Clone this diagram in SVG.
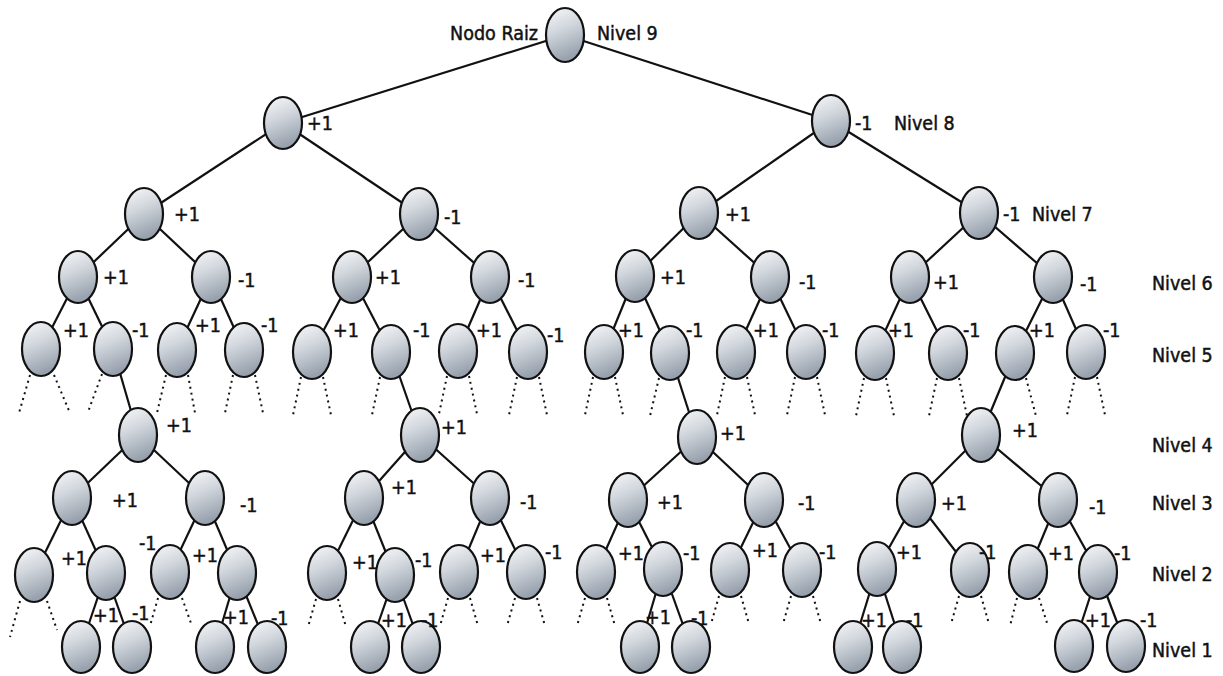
<svg xmlns="http://www.w3.org/2000/svg" width="1223" height="676" viewBox="0 0 1223 676">
<defs>
<linearGradient id="ball" x1="0" y1="0" x2="0.3" y2="1">
<stop offset="0" stop-color="#f7f8fa"/>
<stop offset="0.45" stop-color="#d3d8de"/>
<stop offset="1" stop-color="#98a2ae"/>
</linearGradient>
<style>
.n{fill:url(#ball);stroke:#111;stroke-width:2.2}
.e{stroke:#111;stroke-width:2.2;fill:none}
.d{stroke:#111;stroke-width:2;stroke-dasharray:2 4;fill:none}
text{font-family:"DejaVu Sans Condensed","DejaVu Sans",sans-serif;font-size:19.5px;fill:#111;stroke:#111;stroke-width:0.45}
</style>
</defs>
<rect width="1223" height="676" fill="#fff"/>

<!-- edges between nodes -->
<g id="connectors">
<g class="e">
<line x1="565" y1="35" x2="283" y2="123"/><line x1="565" y1="35" x2="831" y2="121"/>
<line x1="283" y1="123" x2="144" y2="214"/><line x1="283" y1="123" x2="419" y2="214"/>
<line x1="831" y1="121" x2="699" y2="213"/><line x1="831" y1="121" x2="979" y2="213"/>
<line x1="144" y1="214" x2="78" y2="277"/><line x1="144" y1="214" x2="211" y2="277"/>
<line x1="419" y1="214" x2="352" y2="277"/><line x1="419" y1="214" x2="490" y2="277"/>
<line x1="699" y1="213" x2="635" y2="276"/><line x1="699" y1="213" x2="770" y2="277"/>
<line x1="979" y1="213" x2="910" y2="277"/><line x1="979" y1="213" x2="1053" y2="277"/>
<line x1="78" y1="277" x2="41" y2="349"/><line x1="78" y1="277" x2="113" y2="349"/>
<line x1="211" y1="277" x2="177" y2="350"/><line x1="211" y1="277" x2="244" y2="350"/>
<line x1="352" y1="277" x2="312" y2="352"/><line x1="352" y1="277" x2="391" y2="352"/>
<line x1="490" y1="277" x2="458" y2="351"/><line x1="490" y1="277" x2="528" y2="352"/>
<line x1="635" y1="276" x2="604" y2="352"/><line x1="635" y1="276" x2="670" y2="353"/>
<line x1="770" y1="277" x2="736" y2="352"/><line x1="770" y1="277" x2="806" y2="352"/>
<line x1="910" y1="277" x2="875" y2="353"/><line x1="910" y1="277" x2="948" y2="353"/>
<line x1="1053" y1="277" x2="1015" y2="353"/><line x1="1053" y1="277" x2="1086" y2="352"/>
<line x1="113" y1="349" x2="138" y2="435"/>
<line x1="391" y1="352" x2="420" y2="435"/>
<line x1="670" y1="353" x2="697" y2="437"/>
<line x1="1015" y1="353" x2="981" y2="435"/>
<line x1="138" y1="435" x2="72" y2="498"/><line x1="138" y1="435" x2="205" y2="498"/>
<line x1="420" y1="435" x2="364" y2="498"/><line x1="420" y1="435" x2="490" y2="498"/>
<line x1="697" y1="437" x2="628" y2="500"/><line x1="697" y1="437" x2="764" y2="500"/>
<line x1="981" y1="435" x2="916" y2="500"/><line x1="981" y1="435" x2="1058" y2="500"/>
<line x1="72" y1="498" x2="34" y2="575"/><line x1="72" y1="498" x2="106" y2="573"/>
<line x1="205" y1="498" x2="170" y2="572"/><line x1="205" y1="498" x2="237" y2="573"/>
<line x1="364" y1="498" x2="327" y2="573"/><line x1="364" y1="498" x2="395" y2="575"/>
<line x1="490" y1="498" x2="459" y2="572"/><line x1="490" y1="498" x2="526" y2="572"/>
<line x1="628" y1="500" x2="596" y2="572"/><line x1="628" y1="500" x2="663" y2="569"/>
<line x1="764" y1="500" x2="730" y2="570"/><line x1="764" y1="500" x2="802" y2="570"/>
<line x1="916" y1="500" x2="877" y2="569"/><line x1="916" y1="500" x2="970" y2="570"/>
<line x1="1058" y1="500" x2="1028" y2="572"/><line x1="1058" y1="500" x2="1098" y2="572"/>
<line x1="106" y1="573" x2="81" y2="647"/><line x1="106" y1="573" x2="132" y2="647"/>
<line x1="237" y1="573" x2="215" y2="647"/><line x1="237" y1="573" x2="267" y2="647"/>
<line x1="395" y1="575" x2="370" y2="647"/><line x1="395" y1="575" x2="421" y2="647"/>
<line x1="663" y1="569" x2="640" y2="647"/><line x1="663" y1="569" x2="691" y2="647"/>
<line x1="877" y1="569" x2="853" y2="647"/><line x1="877" y1="569" x2="902" y2="647"/>
<line x1="1098" y1="572" x2="1074" y2="646"/><line x1="1098" y1="572" x2="1126" y2="646"/>
</g>
<!-- dotted stubs: subtrees that continue -->
<g class="d">
<line x1="30" y1="375" x2="19" y2="413"/><line x1="54" y1="375" x2="70" y2="413"/>
<line x1="102" y1="374" x2="88" y2="412"/>
<line x1="166" y1="375" x2="157" y2="413"/><line x1="188" y1="375" x2="195" y2="413"/>
<line x1="233" y1="375" x2="225" y2="413"/><line x1="255" y1="375" x2="263" y2="413"/>
<line x1="301" y1="377" x2="293" y2="415"/><line x1="323" y1="377" x2="331" y2="415"/>
<line x1="380" y1="377" x2="372" y2="415"/>
<line x1="447" y1="376" x2="439" y2="414"/><line x1="469" y1="376" x2="477" y2="414"/>
<line x1="517" y1="377" x2="509" y2="415"/><line x1="539" y1="377" x2="547" y2="415"/>
<line x1="593" y1="377" x2="585" y2="415"/><line x1="615" y1="377" x2="623" y2="415"/>
<line x1="659" y1="378" x2="650" y2="416"/>
<line x1="725" y1="377" x2="717" y2="415"/><line x1="747" y1="377" x2="755" y2="415"/>
<line x1="795" y1="377" x2="787" y2="415"/><line x1="817" y1="377" x2="825" y2="415"/>
<line x1="864" y1="378" x2="856" y2="416"/><line x1="886" y1="378" x2="894" y2="416"/>
<line x1="937" y1="378" x2="929" y2="416"/><line x1="959" y1="378" x2="967" y2="416"/>
<line x1="1026" y1="378" x2="1036" y2="416"/>
<line x1="1075" y1="377" x2="1067" y2="415"/><line x1="1097" y1="377" x2="1105" y2="415"/>
<line x1="20" y1="601" x2="10" y2="637"/><line x1="47" y1="601" x2="57" y2="630"/>
<line x1="158" y1="598" x2="150" y2="626"/><line x1="182" y1="598" x2="192" y2="626"/>
<line x1="316" y1="599" x2="308" y2="627"/><line x1="338" y1="599" x2="346" y2="627"/>
<line x1="448" y1="598" x2="440" y2="626"/><line x1="470" y1="598" x2="478" y2="626"/>
<line x1="515" y1="598" x2="507" y2="626"/><line x1="537" y1="598" x2="545" y2="626"/>
<line x1="585" y1="598" x2="577" y2="626"/><line x1="607" y1="598" x2="615" y2="626"/>
<line x1="719" y1="596" x2="711" y2="624"/><line x1="741" y1="596" x2="749" y2="624"/>
<line x1="791" y1="596" x2="783" y2="624"/><line x1="813" y1="596" x2="821" y2="624"/>
<line x1="959" y1="596" x2="951" y2="624"/><line x1="981" y1="596" x2="989" y2="624"/>
<line x1="1017" y1="598" x2="1010" y2="626"/><line x1="1039" y1="598" x2="1048" y2="626"/>
</g>
</g>

<!-- level captions -->
<g id="levels">
<text x="538" y="40" text-anchor="end">Nodo Raiz</text>
<text x="597" y="40">Nivel 9</text>
<text x="894" y="130">Nivel 8</text>
<text x="1032" y="221">Nivel 7</text>
<text x="1152" y="290">Nivel 6</text>
<text x="1152" y="362">Nivel 5</text>
<text x="1152" y="452">Nivel 4</text>
<text x="1152" y="510">Nivel 3</text>
<text x="1152" y="581">Nivel 2</text>
<text x="1152" y="657">Nivel 1</text>
</g>

<!-- nodes -->
<g id="n-root"><ellipse class="n" cx="565" cy="35" rx="19" ry="27"/></g>
<g id="n-8a"><ellipse class="n" cx="283" cy="123" rx="19" ry="26"/><text x="307" y="130">+1</text></g>
<g id="n-8b"><ellipse class="n" cx="831" cy="121" rx="19" ry="26"/><text x="855" y="130">-1</text></g>
<g id="n-7a"><ellipse class="n" cx="144" cy="214" rx="19" ry="26"/><text x="174" y="221">+1</text></g>
<g id="n-7b"><ellipse class="n" cx="419" cy="214" rx="19" ry="26"/><text x="444" y="224">-1</text></g>
<g id="n-7c"><ellipse class="n" cx="699" cy="213" rx="19" ry="26"/><text x="725" y="221">+1</text></g>
<g id="n-7d"><ellipse class="n" cx="979" cy="213" rx="19" ry="26"/><text x="1003" y="221">-1</text></g>

<g id="n-6a"><ellipse class="n" cx="78" cy="277" rx="19" ry="26"/><text x="103" y="284">+1</text></g>
<g id="n-6b"><ellipse class="n" cx="211" cy="277" rx="19" ry="26"/><text x="238" y="287">-1</text></g>
<g id="n-6c"><ellipse class="n" cx="352" cy="277" rx="19" ry="26"/><text x="375" y="284">+1</text></g>
<g id="n-6d"><ellipse class="n" cx="490" cy="277" rx="19" ry="26"/><text x="518" y="287">-1</text></g>
<g id="n-6e"><ellipse class="n" cx="635" cy="276" rx="19" ry="26"/><text x="660" y="284">+1</text></g>
<g id="n-6f"><ellipse class="n" cx="770" cy="277" rx="19" ry="26"/><text x="799" y="289">-1</text></g>
<g id="n-6g"><ellipse class="n" cx="910" cy="277" rx="19" ry="26"/><text x="933" y="289">+1</text></g>
<g id="n-6h"><ellipse class="n" cx="1053" cy="277" rx="19" ry="26"/><text x="1080" y="291">-1</text></g>

<g id="n-5a"><ellipse class="n" cx="41" cy="349" rx="19" ry="27"/><text x="63" y="337">+1</text></g>
<g id="n-5b"><ellipse class="n" cx="113" cy="349" rx="19" ry="27"/><text x="132" y="337">-1</text></g>
<g id="n-5c"><ellipse class="n" cx="177" cy="350" rx="19" ry="27"/><text x="195" y="332">+1</text></g>
<g id="n-5d"><ellipse class="n" cx="244" cy="350" rx="19" ry="27"/><text x="261" y="332">-1</text></g>
<g id="n-5e"><ellipse class="n" cx="312" cy="352" rx="19" ry="27"/><text x="333" y="337">+1</text></g>
<g id="n-5f"><ellipse class="n" cx="391" cy="352" rx="19" ry="27"/><text x="413" y="337">-1</text></g>
<g id="n-5g"><ellipse class="n" cx="458" cy="351" rx="19" ry="27"/><text x="476" y="337">+1</text></g>
<g id="n-5h"><ellipse class="n" cx="528" cy="352" rx="19" ry="27"/><text x="547" y="342">-1</text></g>
<g id="n-5i"><ellipse class="n" cx="604" cy="352" rx="19" ry="27"/><text x="618" y="337">+1</text></g>
<g id="n-5j"><ellipse class="n" cx="670" cy="353" rx="19" ry="27"/><text x="686" y="337">-1</text></g>
<g id="n-5k"><ellipse class="n" cx="736" cy="352" rx="19" ry="27"/><text x="753" y="337">+1</text></g>
<g id="n-5l"><ellipse class="n" cx="806" cy="352" rx="19" ry="27"/><text x="822" y="337">-1</text></g>
<g id="n-5m"><ellipse class="n" cx="875" cy="353" rx="19" ry="27"/><text x="888" y="337">+1</text></g>
<g id="n-5n"><ellipse class="n" cx="948" cy="353" rx="19" ry="27"/><text x="963" y="337">-1</text></g>
<g id="n-5o"><ellipse class="n" cx="1015" cy="353" rx="19" ry="27"/><text x="1029" y="337">+1</text></g>
<g id="n-5p"><ellipse class="n" cx="1086" cy="352" rx="19" ry="27"/><text x="1103" y="337">-1</text></g>

<g id="n-4a"><ellipse class="n" cx="138" cy="435" rx="19" ry="27"/><text x="166" y="432">+1</text></g>
<g id="n-4b"><ellipse class="n" cx="420" cy="435" rx="19" ry="27"/><text x="441" y="434">+1</text></g>
<g id="n-4c"><ellipse class="n" cx="697" cy="437" rx="19" ry="27"/><text x="720" y="440">+1</text></g>
<g id="n-4d"><ellipse class="n" cx="981" cy="435" rx="19" ry="27"/><text x="1012" y="437">+1</text></g>

<g id="n-3a"><ellipse class="n" cx="72" cy="498" rx="19" ry="27"/><text x="112" y="507">+1</text></g>
<g id="n-3b"><ellipse class="n" cx="205" cy="498" rx="19" ry="27"/><text x="240" y="512">-1</text></g>
<g id="n-3c"><ellipse class="n" cx="364" cy="498" rx="19" ry="27"/><text x="391" y="494">+1</text></g>
<g id="n-3d"><ellipse class="n" cx="490" cy="498" rx="19" ry="27"/><text x="520" y="509">-1</text></g>
<g id="n-3e"><ellipse class="n" cx="628" cy="500" rx="19" ry="27"/><text x="657" y="509">+1</text></g>
<g id="n-3f"><ellipse class="n" cx="764" cy="500" rx="19" ry="27"/><text x="798" y="510">-1</text></g>
<g id="n-3g"><ellipse class="n" cx="916" cy="500" rx="19" ry="27"/><text x="941" y="510">+1</text></g>
<g id="n-3h"><ellipse class="n" cx="1058" cy="500" rx="19" ry="27"/><text x="1089" y="514">-1</text></g>

<g id="n-2a"><ellipse class="n" cx="34" cy="575" rx="19" ry="27"/><text x="61" y="565">+1</text></g>
<g id="n-2b"><ellipse class="n" cx="106" cy="573" rx="19" ry="27"/></g>
<g id="n-2c"><ellipse class="n" cx="170" cy="572" rx="19" ry="27"/><text x="139" y="550">-1</text><text x="192" y="562">+1</text></g>
<g id="n-2d"><ellipse class="n" cx="237" cy="573" rx="19" ry="27"/></g>
<g id="n-2e"><ellipse class="n" cx="327" cy="573" rx="19" ry="27"/><text x="352" y="569">+1</text></g>
<g id="n-2f"><ellipse class="n" cx="395" cy="575" rx="19" ry="27"/><text x="415" y="567">-1</text></g>
<g id="n-2g"><ellipse class="n" cx="459" cy="572" rx="19" ry="27"/><text x="480" y="562">+1</text></g>
<g id="n-2h"><ellipse class="n" cx="526" cy="572" rx="19" ry="27"/><text x="545" y="559">-1</text></g>
<g id="n-2i"><ellipse class="n" cx="596" cy="572" rx="19" ry="27"/><text x="618" y="560">+1</text></g>
<g id="n-2j"><ellipse class="n" cx="663" cy="569" rx="19" ry="27"/><text x="683" y="560">-1</text></g>
<g id="n-2k"><ellipse class="n" cx="730" cy="570" rx="19" ry="27"/><text x="752" y="557">+1</text></g>
<g id="n-2l"><ellipse class="n" cx="802" cy="570" rx="19" ry="27"/><text x="819" y="559">-1</text></g>
<g id="n-2m"><ellipse class="n" cx="877" cy="569" rx="19" ry="27"/><text x="896" y="559">+1</text></g>
<g id="n-2n"><ellipse class="n" cx="970" cy="570" rx="19" ry="27"/><text x="979" y="559">-1</text></g>
<g id="n-2o"><ellipse class="n" cx="1028" cy="572" rx="19" ry="27"/><text x="1048" y="560">+1</text></g>
<g id="n-2p"><ellipse class="n" cx="1098" cy="572" rx="19" ry="27"/><text x="1114" y="560">-1</text></g>

<g id="n-1a"><ellipse class="n" cx="81" cy="647" rx="19" ry="26"/><text x="93" y="622">+1</text></g>
<g id="n-1b"><ellipse class="n" cx="132" cy="647" rx="19" ry="26"/><text x="132" y="620">-1</text></g>
<g id="n-1c"><ellipse class="n" cx="215" cy="647" rx="19" ry="26"/><text x="223" y="624">+1</text></g>
<g id="n-1d"><ellipse class="n" cx="267" cy="647" rx="19" ry="26"/><text x="271" y="625">-1</text></g>
<g id="n-1e"><ellipse class="n" cx="370" cy="647" rx="19" ry="26"/><text x="381" y="627">+1</text></g>
<g id="n-1f"><ellipse class="n" cx="421" cy="647" rx="19" ry="26"/><text x="421" y="627">-1</text></g>
<g id="n-1g"><ellipse class="n" cx="640" cy="647" rx="19" ry="26"/><text x="645" y="624">+1</text></g>
<g id="n-1h"><ellipse class="n" cx="691" cy="647" rx="19" ry="26"/><text x="691" y="625">-1</text></g>
<g id="n-1i"><ellipse class="n" cx="853" cy="647" rx="19" ry="26"/><text x="861" y="627">+1</text></g>
<g id="n-1j"><ellipse class="n" cx="902" cy="647" rx="19" ry="26"/><text x="906" y="627">-1</text></g>
<g id="n-1k"><ellipse class="n" cx="1074" cy="646" rx="19" ry="26"/><text x="1085" y="627">+1</text></g>
<g id="n-1l"><ellipse class="n" cx="1126" cy="646" rx="19" ry="26"/><text x="1140" y="627">-1</text></g>
</svg>
